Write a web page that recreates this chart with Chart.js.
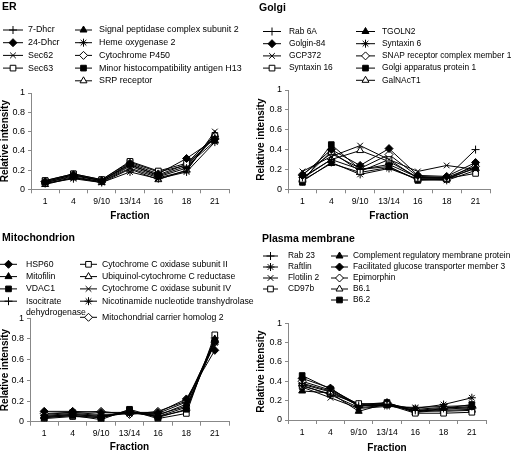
<!DOCTYPE html>
<html>
<head>
<meta charset="utf-8">
<script src="https://cdn.jsdelivr.net/npm/chart.js@4.4.0/dist/chart.umd.min.js"></script>
<style>
  body { margin: 0; background: #fff; }
  #wrap { position: relative; width: 512px; height: 452px; }
  canvas { position: absolute; }
</style>
</head>
<body>
<div id="wrap">
  <canvas id="er" width="256" height="226" style="left:0;top:0"></canvas>
  <canvas id="golgi" width="256" height="226" style="left:256px;top:0"></canvas>
  <canvas id="mito" width="256" height="226" style="left:0;top:226px"></canvas>
  <canvas id="pm" width="256" height="226" style="left:256px;top:226px"></canvas>
</div>
<script>
// fractions on the x axis
const fractions = ['1', '4', '9/10', '13/14', '16', '18', '21'];

// ER
const erNames = ['7-Dhcr', '24-Dhcr', 'Sec62', 'Sec63', 'Signal peptidase complex subunit 2',
  'Heme oxygenase 2', 'Cytochrome P450', 'Minor histocompatibility antigen H13', 'SRP receptor'];
const erValues = [
  [0.07, 0.13, 0.08, 0.24, 0.13, 0.22, 0.55],
  [0.08, 0.15, 0.09, 0.27, 0.16, 0.32, 0.52],
  [0.06, 0.12, 0.08, 0.22, 0.12, 0.19, 0.60],
  [0.09, 0.16, 0.10, 0.29, 0.19, 0.27, 0.56],
  [0.07, 0.14, 0.09, 0.26, 0.14, 0.24, 0.50],
  [0.06, 0.11, 0.07, 0.18, 0.11, 0.18, 0.49],
  [0.08, 0.15, 0.09, 0.25, 0.15, 0.26, 0.53],
  [0.09, 0.16, 0.10, 0.28, 0.18, 0.25, 0.54],
  [0.05, 0.12, 0.07, 0.21, 0.10, 0.20, 0.57]
];

// Golgi
const golgiNames = ['Rab 6A', 'Golgin-84', 'GCP372', 'Syntaxin 16', 'TGOLN2', 'Syntaxin 6',
  'SNAP receptor complex member 1', 'Golgi apparatus protein 1', 'GalNAcT1'];
const golgiValues = [
  [0.12, 0.30, 0.20, 0.25, 0.12, 0.12, 0.40],
  [0.14, 0.40, 0.24, 0.41, 0.14, 0.13, 0.27],
  [0.18, 0.33, 0.44, 0.30, 0.18, 0.24, 0.20],
  [0.10, 0.38, 0.18, 0.30, 0.11, 0.11, 0.16],
  [0.09, 0.26, 0.17, 0.22, 0.10, 0.10, 0.22],
  [0.08, 0.27, 0.15, 0.21, 0.10, 0.09, 0.19],
  [0.15, 0.36, 0.21, 0.35, 0.13, 0.12, 0.23],
  [0.07, 0.45, 0.20, 0.23, 0.09, 0.10, 0.25],
  [0.11, 0.30, 0.39, 0.28, 0.12, 0.11, 0.21]
];

// Mitochondrion
const mitoNames = ['HSP60', 'Mitofilin', 'VDAC1', ['Isocitrate', 'dehydrogenase'],
  'Cytochrome C oxidase subunit II', 'Ubiquinol-cytochrome C reductase',
  'Cytochrome C oxidase subunit IV', 'Nicotinamide nucleotide transhydrolase',
  'Mitochondrial carrier homolog 2'];
const mitoValues = [
  [0.10, 0.10, 0.09, 0.09, 0.09, 0.22, 0.69],
  [0.05, 0.07, 0.05, 0.09, 0.06, 0.17, 0.80],
  [0.04, 0.06, 0.02, 0.12, 0.04, 0.12, 0.78],
  [0.06, 0.08, 0.06, 0.08, 0.08, 0.19, 0.75],
  [0.03, 0.05, 0.04, 0.11, 0.03, 0.08, 0.84],
  [0.05, 0.07, 0.05, 0.10, 0.05, 0.14, 0.79],
  [0.07, 0.09, 0.07, 0.08, 0.07, 0.15, 0.76],
  [0.04, 0.06, 0.04, 0.09, 0.05, 0.11, 0.81],
  [0.08, 0.09, 0.10, 0.07, 0.10, 0.20, 0.77]
];

// Plasma membrane
const pmNames = ['Rab 23', 'Raftlin', 'Flotilin 2', 'CD97b', 'Complement regulatory membrane protein',
  'Facilitated glucose transporter member 3', 'Epimorphin', 'B6.1', 'B6.2'];
const pmValues = [
  [0.38, 0.30, 0.15, 0.16, 0.10, 0.12, 0.14],
  [0.36, 0.26, 0.13, 0.15, 0.12, 0.16, 0.23],
  [0.34, 0.23, 0.12, 0.14, 0.13, 0.14, 0.15],
  [0.35, 0.27, 0.17, 0.16, 0.07, 0.07, 0.08],
  [0.30, 0.28, 0.09, 0.17, 0.08, 0.10, 0.11],
  [0.43, 0.33, 0.14, 0.18, 0.09, 0.11, 0.13],
  [0.40, 0.31, 0.16, 0.17, 0.11, 0.13, 0.12],
  [0.37, 0.29, 0.15, 0.15, 0.10, 0.09, 0.10],
  [0.46, 0.32, 0.16, 0.18, 0.08, 0.12, 0.16]
];

// marker look
const markerStyles = {
  plus:     { style: 'cross',    fill: '#000', r: 4 },
  diamond:  { style: 'rectRot',  fill: '#000', r: 4 },
  ex:       { style: 'crossRot', fill: '#000', r: 4 },
  oSquare:  { style: 'rect',     fill: '#fff', r: 4 },
  triangle: { style: 'triangle', fill: '#000', r: 4 },
  star:     { style: 'star',     fill: '#000', r: 4 },
  oDiamond: { style: 'rectRot',  fill: '#fff', r: 4 },
  square:   { style: 'rect',     fill: '#000', r: 4 },
  oTri:     { style: 'triangle', fill: '#fff', r: 4 }
};
const erMarkers = ['plus', 'diamond', 'ex', 'oSquare', 'triangle', 'star', 'oDiamond', 'square', 'oTri'];
const golgiMarkers = erMarkers;
const mitoMarkers = ['diamond', 'triangle', 'square', 'plus', 'oSquare', 'oTri', 'ex', 'star', 'oDiamond'];
const pmMarkers = ['plus', 'star', 'ex', 'oSquare', 'triangle', 'diamond', 'oDiamond', 'oTri', 'square'];

Chart.defaults.font.family = '"Liberation Sans", Arial, sans-serif';

// title + two column legend drawn on the canvas
const panelDecor = {
  id: 'panelDecor',
  afterDraw(chart, args, opts) {
    const ctx = chart.ctx;
    ctx.save();
    ctx.fillStyle = '#000';
    ctx.textBaseline = 'middle';
    ctx.textAlign = 'left';
    ctx.font = 'bold 10.5px "Liberation Sans", Arial, sans-serif';
    ctx.fillText(opts.title, opts.tx, opts.ty);
    ctx.font = opts.fs + 'px "Liberation Sans", Arial, sans-serif';
    let k = 0;
    opts.cols.forEach(col => {
      col.rows.forEach(y => {
        const ds = chart.data.datasets[k++];
        if (!ds) return;
        ctx.strokeStyle = '#000';
        ctx.lineWidth = 1;
        ctx.beginPath();
        ctx.moveTo(col.x0, y);
        ctx.lineTo(col.x1, y);
        ctx.stroke();
        ctx.fillStyle = ds.pointBackgroundColor;
        Chart.helpers.drawPoint(ctx, { pointStyle: ds.pointStyle, radius: ds.pointRadius, rotation: 0, borderWidth: 1 }, (col.x0 + col.x1) / 2, y);
        ctx.fillStyle = '#000';
        const lines = Array.isArray(ds.label) ? ds.label : [ds.label];
        lines.forEach((t, j) => ctx.fillText(t, col.tx, y + j * 11.3));
      });
    });
    ctx.restore();
  }
};

function panel(id, title, names, values, markers, box, decor) {
  const el = document.getElementById(id);
  const W = el.width, H = el.height;
  return new Chart(el, {
    type: 'line',
    data: {
      labels: fractions,
      datasets: values.map((v, i) => {
        const m = markerStyles[markers[i]];
        return {
          label: names[i],
          data: v,
          borderColor: '#000',
          borderWidth: 1,
          pointStyle: m.style,
          pointRadius: m.r,
          pointBackgroundColor: m.fill,
          pointBorderColor: '#000',
          pointBorderWidth: 1,
          tension: 0
        };
      })
    },
    options: {
      responsive: false,
      animation: false,
      layout: { padding: { left: 0, top: box.top, right: W - box.right, bottom: 0 } },
      plugins: {
        legend: { display: false },
        tooltip: { enabled: false },
        panelDecor: Object.assign({ title: title }, decor)
      },
      scales: {
        x: {
          offset: true,
          grid: { offset: true, drawOnChartArea: false, tickLength: 4, color: '#888' },
          border: { color: '#888' },
          ticks: { color: '#000', font: { size: 8.6 }, padding: 3, maxRotation: 0, autoSkip: false },
          title: { display: true, text: 'Fraction', color: '#000',
            font: { size: 10, weight: 'bold', lineHeight: 0.8 }, padding: { top: 0, bottom: box.fracPad } },
          afterFit: s => { s.height = H - box.bottom; }
        },
        y: {
          min: 0,
          max: 1,
          grid: { drawOnChartArea: false, tickLength: 3, color: '#888' },
          border: { color: '#888' },
          ticks: { stepSize: 0.2, color: '#000', font: { size: 9 }, padding: 3,
            callback: v => String(Math.round(v * 10) / 10) },
          title: { display: true, text: 'Relative intensity', color: '#000',
            font: { size: 10, weight: 'bold', lineHeight: 1 }, padding: 0 },
          afterFit: s => { s.width = box.left; }
        }
      }
    },
    plugins: [panelDecor]
  });
}

panel('er', 'ER', erNames, erValues, erMarkers,
  { left: 31, right: 229, top: 93, bottom: 189.3, fracPad: 6 },
  { tx: 2, ty: 7, fs: 8.9, cols: [
    { x0: 3, x1: 23, tx: 28, rows: [30, 42.7, 55.4, 68.1] },
    { x0: 75, x1: 92, tx: 99, rows: [30, 42.7, 55.4, 68.1, 80.8] } ] });

panel('golgi', 'Golgi', golgiNames, golgiValues, golgiMarkers,
  { left: 32, right: 234, top: 90, bottom: 189.3, fracPad: 6 },
  { tx: 3, ty: 8, fs: 8.4, cols: [
    { x0: 7, x1: 25, tx: 33, rows: [31.5, 43.7, 55.9, 68.1] },
    { x0: 100, x1: 119, tx: 126, rows: [31.5, 43.7, 55.9, 68.1, 80.3] } ] });

panel('mito', 'Mitochondrion', mitoNames, mitoValues, mitoMarkers,
  { left: 30, right: 229, top: 92.3, bottom: 195.7, fracPad: 0.5 },
  { tx: 2, ty: 12.5, fs: 8.7, cols: [
    { x0: 0, x1: 17, tx: 26, rows: [38.3, 50.6, 62.9, 75.2] },
    { x0: 80, x1: 97, tx: 102, rows: [38.3, 50.6, 62.9, 75.2, 91.3] } ] });

panel('pm', 'Plasma membrane', pmNames, pmValues, pmMarkers,
  { left: 32, right: 230, top: 97.3, bottom: 194, fracPad: 0 },
  { tx: 6, ty: 13, fs: 8.4, cols: [
    { x0: 7, x1: 22, tx: 32, rows: [30, 41, 52, 63] },
    { x0: 75, x1: 92, tx: 97, rows: [30, 41, 52, 63, 74] } ] });
</script>
</body>
</html>
